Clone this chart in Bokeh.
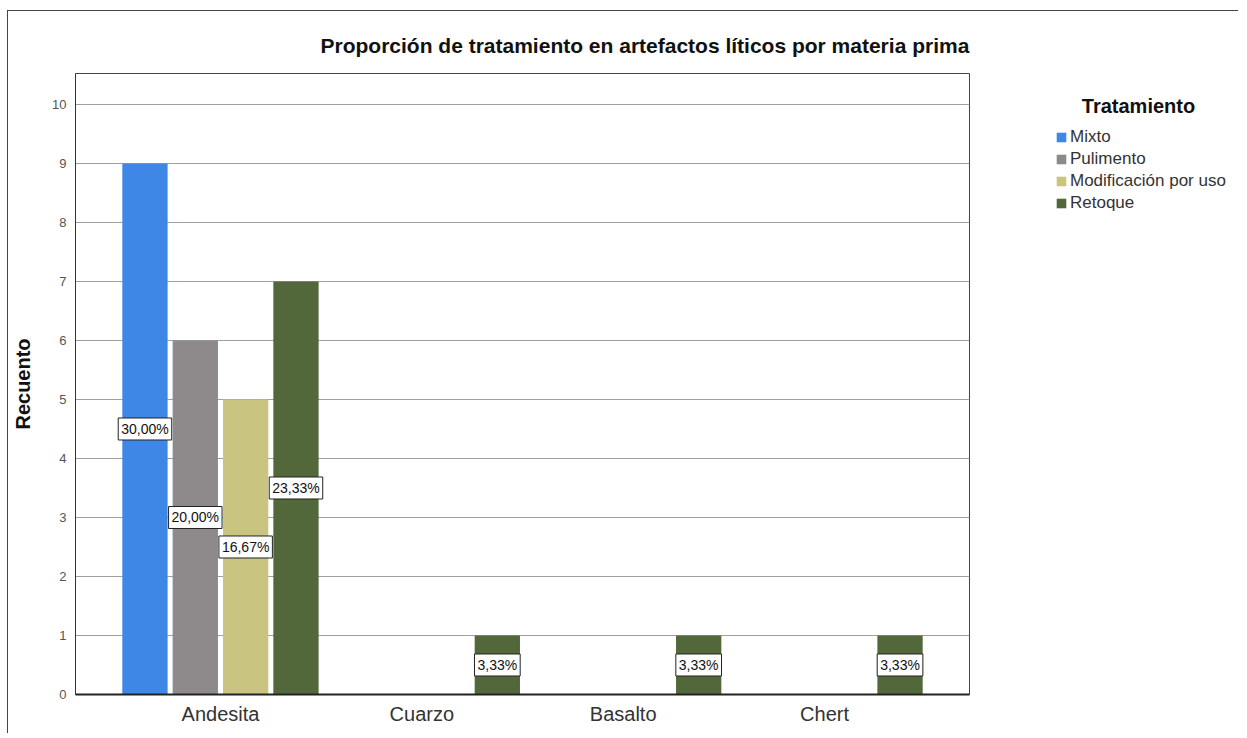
from bokeh.plotting import figure
from bokeh.layouts import row
from bokeh.models import (ColumnDataSource, FactorRange, Range1d, Legend, LegendItem,
                          FixedTicker, Label)
from bokeh.core.properties import value
from bokeh.transform import dodge
from bokeh.embed import file_html
from bokeh.resources import INLINE

# ---- data ----
categories = ["Andesita", "Cuarzo", "Basalto", "Chert"]
series_names = ["Mixto", "Pulimento", "Modificación por uso", "Retoque"]
mixto = [9, 0, 0, 0]
pulimento = [6, 0, 0, 0]
modificacion = [5, 0, 0, 0]
retoque = [7, 1, 1, 1]
y_ticks = [0, 1, 2, 3, 4, 5, 6, 7, 8, 9, 10]
chart_title = "Proporción de tratamiento en artefactos líticos por materia prima"
legend_title = "Tratamiento"

series_values = [mixto, pulimento, modificacion, retoque]
colors = ["#3f87e6", "#8e8a8c", "#c9c581", "#52683a"]
offsets = [-0.375, -0.125, 0.125, 0.375]
total = sum(sum(s) for s in series_values)

FONT = "Liberation Sans"
H = 722
W1 = 963
W2 = 267

p = figure(x_range=FactorRange(*categories, range_padding=0.11, range_padding_units="percent"),
           y_range=Range1d(0, 10.525),
           width=W1, height=H, output_backend="svg", toolbar_location=None,
           min_border_left=67, min_border_right=2, min_border_top=62, min_border_bottom=39)
p.background_fill_color = "white"
p.border_fill_color = "white"
p.outline_line_color = "#444444"
p.outline_line_width = 1

# title
p.title.text = chart_title
p.title.align = "left"
p.title.offset = 245
p.title.text_font = FONT
p.title.text_font_style = "bold"
p.title.text_font_size = "21px"
p.title.text_color = "#111111"
p.title.standoff = 33

renderers = []
sources = []
for name, vals, col, off in zip(series_names, series_values, colors, offsets):
    cats = [c for c, v in zip(categories, vals) if v > 0]
    vs = [v for v in vals if v > 0]
    src = ColumnDataSource(dict(
        cat=cats, val=vs, mid=[v / 2 for v in vs],
        pct=[("%.2f" % (v / total * 100)).replace(".", ",") + "%" for v in vs]))
    r = p.vbar(x=dodge("cat", off, range=p.x_range), top="val", width=0.225, source=src,
               fill_color=col, line_color=None)
    renderers.append(r)
    sources.append((src, off))

for src, off in sources:
    p.text(x=dodge("cat", off, range=p.x_range), y="mid", text="pct", source=src,
           text_align="center", text_baseline="middle",
           text_font=value(FONT), text_font_size="14px", text_color="#111111",
           background_fill_color="white", border_line_color="#222222",
           border_line_width=1, padding=3)

# grid
p.xgrid.grid_line_color = None
p.ygrid.ticker = FixedTicker(ticks=y_ticks)
p.ygrid.grid_line_color = "#a0a0a0"
p.ygrid.grid_line_width = 1

# y axis
p.yaxis.ticker = FixedTicker(ticks=y_ticks)
p.yaxis.axis_label = "Recuento"
p.yaxis.axis_label_text_font = FONT
p.yaxis.axis_label_text_font_style = "bold"
p.yaxis.axis_label_text_font_size = "20px"
p.yaxis.axis_label_text_color = "#111111"
p.yaxis.axis_label_standoff = 15
p.yaxis.major_label_text_font = FONT
p.yaxis.major_label_text_font_size = "13px"
p.yaxis.major_label_text_color = "#555555"
p.yaxis.major_label_standoff = 9
p.yaxis.major_tick_out = 0
p.yaxis.major_tick_in = 0
p.yaxis.minor_tick_out = 0
p.yaxis.minor_tick_in = 0
p.yaxis.major_tick_line_color = None
p.yaxis.minor_tick_line_color = None
p.yaxis.axis_line_color = "#333333"

# x axis
p.xaxis.major_label_text_font = FONT
p.xaxis.major_label_text_font_size = "20px"
p.xaxis.major_label_text_color = "#333333"
p.xaxis.major_label_standoff = 8
p.xaxis.major_tick_out = 0
p.xaxis.major_tick_in = 0
p.xaxis.major_tick_line_color = None
p.xaxis.axis_line_color = "#222222"
p.xaxis.axis_line_width = 2

# ---- legend panel (separate figure; its frame is aligned with the main frame) ----
lf = figure(width=W2, height=H, x_range=Range1d(0, 1), y_range=Range1d(0, 1),
            output_backend="svg", toolbar_location=None,
            min_border_left=0, min_border_right=0, min_border_top=62, min_border_bottom=39)
lf.axis.visible = False
lf.grid.visible = False
lf.outline_line_color = None
lf.background_fill_color = "white"
lf.border_fill_color = "white"

# legend-only renderers (a single NaN row so nothing is drawn in the panel itself)
dummy = []
for col in colors:
    dummy.append(lf.vbar(x=[0.5], top=[float("nan")], width=0.1, fill_color=col, line_color=None))

legend = Legend(items=[LegendItem(label=n, renderers=[r]) for n, r in zip(series_names, dummy)],
                location=(84, 481), orientation="vertical",
                padding=0, margin=0, spacing=1, label_height=21,
                glyph_width=12, glyph_height=12, label_standoff=3,
                label_text_font=FONT, label_text_font_size="17px", label_text_color="#333333",
                border_line_color=None, background_fill_alpha=0)
lf.add_layout(legend, "center")

lt = Label(x=167, y=589, x_units="screen", y_units="screen", text=legend_title,
           text_font=FONT, text_font_style="bold",
           text_font_size="20px", text_color="#111111", text_align="center",
           text_baseline="middle")
lf.add_layout(lt)

layout = row(p, lf, spacing=0)
layout.styles = {"border-left": "1px solid #444", "border-top": "1px solid #444",
                 "margin-left": "7px", "margin-top": "10px"}

open("out.html", "w").write(file_html(layout, INLINE))
